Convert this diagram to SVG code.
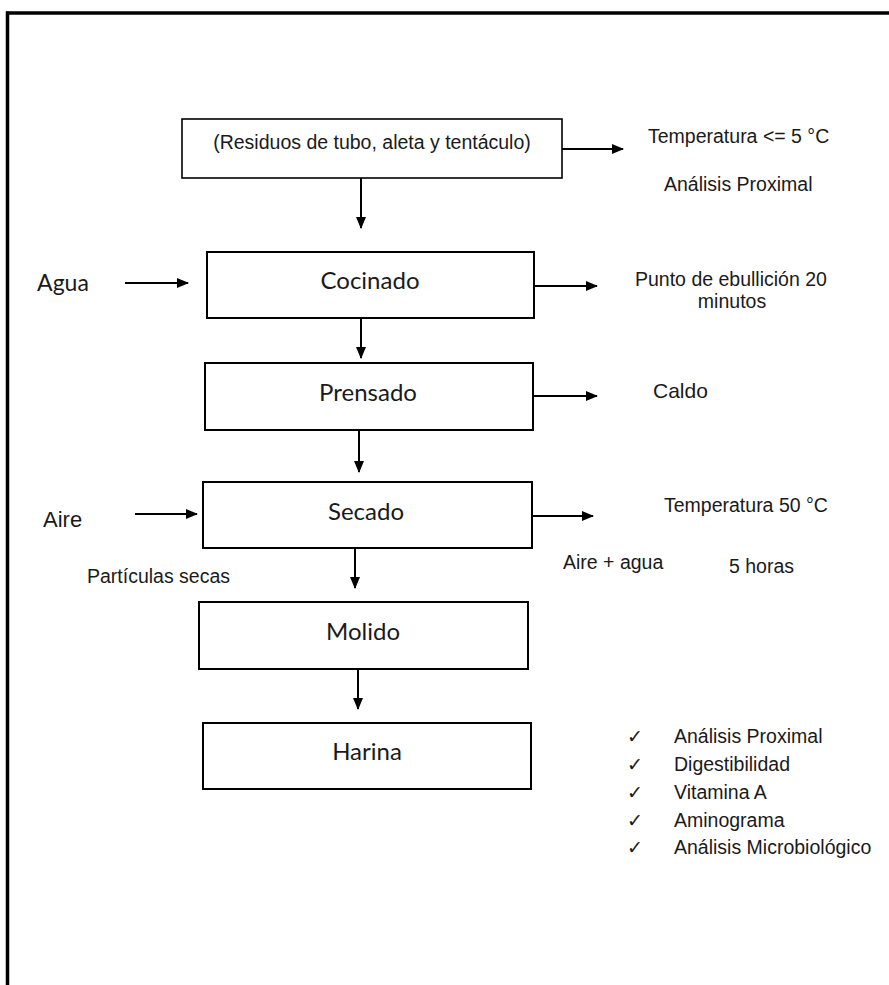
<svg xmlns="http://www.w3.org/2000/svg" width="889" height="985" viewBox="0 0 889 985">
<style>
.box{fill:#fff;stroke:#000;stroke-width:2}
.lbl{font-family:Lato,"Open Sans",sans-serif;font-size:24px;fill:#1a1a1a;text-anchor:middle}
.ar{font-family:"Liberation Sans",Arial,sans-serif;font-size:19.5px;fill:#1a1a1a}
.con line{stroke:#000;stroke-width:2;marker-end:url(#ah)}
.chk{font-family:"DejaVu Sans",sans-serif;font-size:19px;fill:#1a1a1a}
</style>
<defs>
<marker id="ah" markerWidth="12" markerHeight="10" refX="11" refY="5" orient="auto" markerUnits="userSpaceOnUse">
<path d="M0,0 L12,5 L0,10 Z" fill="#000"/>
</marker>
</defs>
<rect width="889" height="985" fill="#fff"/>
<g id="frame">
<line x1="6" y1="13" x2="889" y2="13" stroke="#000" stroke-width="3.5"/>
<line x1="7.5" y1="11.5" x2="7.5" y2="985" stroke="#000" stroke-width="3.5"/>
</g>
<g id="n-residuos">
<rect class="box" x="182" y="119" width="380" height="59" style="stroke-width:1.6"/>
<text class="ar" x="372" y="149" text-anchor="middle">(Residuos de tubo, aleta y tentáculo)</text>
</g>
<g id="n-cocinado">
<rect class="box" x="207" y="252" width="327" height="66"/>
<text class="lbl" x="370" y="289">Cocinado</text>
</g>
<g id="n-prensado">
<rect class="box" x="205" y="363" width="328" height="67"/>
<text class="lbl" x="368" y="401">Prensado</text>
</g>
<g id="n-secado">
<rect class="box" x="203" y="482" width="329" height="66"/>
<text class="lbl" x="366" y="520">Secado</text>
</g>
<g id="n-molido">
<rect class="box" x="199" y="602" width="329" height="67"/>
<text class="lbl" x="363" y="640">Molido</text>
</g>
<g id="n-harina">
<rect class="box" x="203" y="723" width="328" height="66"/>
<text class="lbl" x="367" y="760">Harina</text>
</g>
<g id="labels">
<text class="lbl" x="63" y="291" style="font-size:23px">Agua</text>
<text class="ar" x="43" y="527" style="font-size:22px">Aire</text>
<text class="ar" x="87" y="583">Partículas secas</text>
<text class="ar" x="648" y="143">Temperatura &lt;= 5 °C</text>
<text class="ar" x="664" y="191">Análisis Proximal</text>
<text class="ar" x="635" y="286">Punto de ebullición 20</text>
<text class="ar" x="732" y="308" text-anchor="middle">minutos</text>
<text class="ar" x="653" y="398" style="font-size:21px">Caldo</text>
<text class="ar" x="664" y="512">Temperatura 50 °C</text>
<text class="ar" x="563" y="569">Aire + agua</text>
<text class="ar" x="729" y="573">5 horas</text>
</g>
<g id="checklist">
<text class="chk" x="627" y="743">✓</text>
<text class="ar" x="674" y="743">Análisis Proximal</text>
<text class="chk" x="627" y="771">✓</text>
<text class="ar" x="674" y="771">Digestibilidad</text>
<text class="chk" x="627" y="799">✓</text>
<text class="ar" x="674" y="799">Vitamina A</text>
<text class="chk" x="627" y="827">✓</text>
<text class="ar" x="674" y="827">Aminograma</text>
<text class="chk" x="627" y="854">✓</text>
<text class="ar" x="674" y="854">Análisis Microbiológico</text>
</g>
<g id="connectors" class="con">
<line x1="361" y1="178" x2="361" y2="228"/>
<line x1="361" y1="318" x2="361" y2="358"/>
<line x1="359" y1="430" x2="359" y2="472"/>
<line x1="355" y1="548" x2="355" y2="588"/>
<line x1="358" y1="669" x2="358" y2="709"/>
<line x1="562" y1="149" x2="623" y2="149"/>
<line x1="534" y1="286" x2="597" y2="286"/>
<line x1="533" y1="396" x2="597" y2="396"/>
<line x1="532" y1="516" x2="593" y2="516"/>
<line x1="125" y1="283" x2="188" y2="283"/>
<line x1="135" y1="514" x2="197" y2="514"/>
</g>
</svg>
